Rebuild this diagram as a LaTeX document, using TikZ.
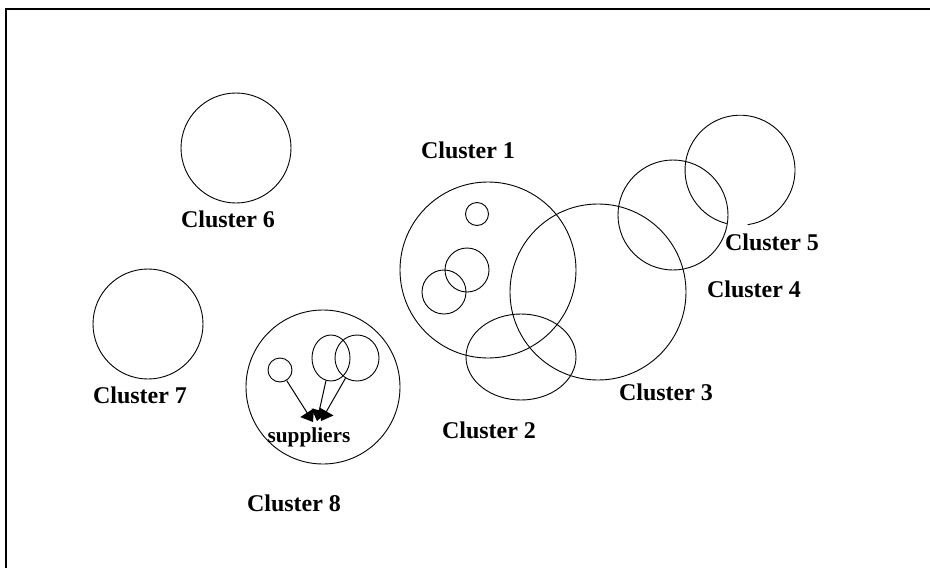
\documentclass[tikz,border=0pt]{standalone}
\usepackage{fontspec}
\setmainfont{Liberation Serif}
\usetikzlibrary{shapes.geometric,arrows.meta}
\begin{document}
\begin{tikzpicture}[x=1pt,y=-1pt,
  ring/.style={circle,draw,line width=0.9pt,inner sep=0pt,minimum size=#1},
  oval/.style 2 args={ellipse,draw,line width=0.9pt,inner sep=0pt,minimum width=#1,minimum height=#2},
  lbl/.style={anchor=base,font=\fontsize{24}{26}\selectfont\bfseries,inner sep=0pt},
  feed/.style={line width=1pt,-{Triangle[width=16pt,length=11pt]}}]
\useasboundingbox (0,0) rectangle (930,568);
\fill[white] (0,0) rectangle (930,568);
% frame
\draw[line width=2pt] (5.5,568) -- (5.5,8.5) -- (930,8.5);

% clusters
\node[ring=110pt] (c6) at (236,148) {};
\node[ring=110pt] (c7) at (148,324) {};
\node[ring=154pt] (c8) at (323,387) {};
\node[ring=176pt] (c1) at (488,270) {};
\node[oval={110pt}{86pt}] (c2) at (521,357) {};
\node[ring=176pt] (c3) at (598,292) {};
\node[ring=110pt] (c4) at (673,215) {};
\node[circle,inner sep=0pt,minimum size=110pt] (c5) at (740,170) {};
\draw[line width=0.9pt] (c5.278) arc[start angle=278,end angle=616,radius=55pt];

% members of cluster 1
\node[ring=23pt] (m1) at (477,214) {};
\node[ring=44pt] (m2) at (467,270) {};
\node[ring=44pt] (m3) at (444,292) {};

% members of cluster 8 and their suppliers
\node[ring=24pt] (s1) at (280,370) {};
\node[oval={38pt}{46pt}] (s2) at (331,358) {};
\node[oval={44pt}{46pt}] (s3) at (357,358) {};
\coordinate (h1) at (313,422);
\coordinate (h2) at (317,421);
\coordinate (h3) at (321,421);
\draw[feed] (s1) -- (h1);
\draw[feed] (s2) -- (h2);
\draw[feed] (s3) -- (h3);
\node[anchor=base,font=\fontsize{21.3}{23}\selectfont\bfseries,inner sep=0pt] (sup) at (309,442) {suppliers};

% labels
\node[lbl] (l1) at (468,158) {Cluster 1};
\node[lbl] (l2) at (489,438) {Cluster 2};
\node[lbl] (l3) at (666,400) {Cluster 3};
\node[lbl] (l4) at (754,297) {Cluster 4};
\node[lbl] (l5) at (772,250) {Cluster 5};
\node[lbl] (l6) at (228,227) {Cluster 6};
\node[lbl] (l7) at (140,403) {Cluster 7};
\node[lbl] (l8) at (294,511) {Cluster 8};
\end{tikzpicture}
\end{document}
